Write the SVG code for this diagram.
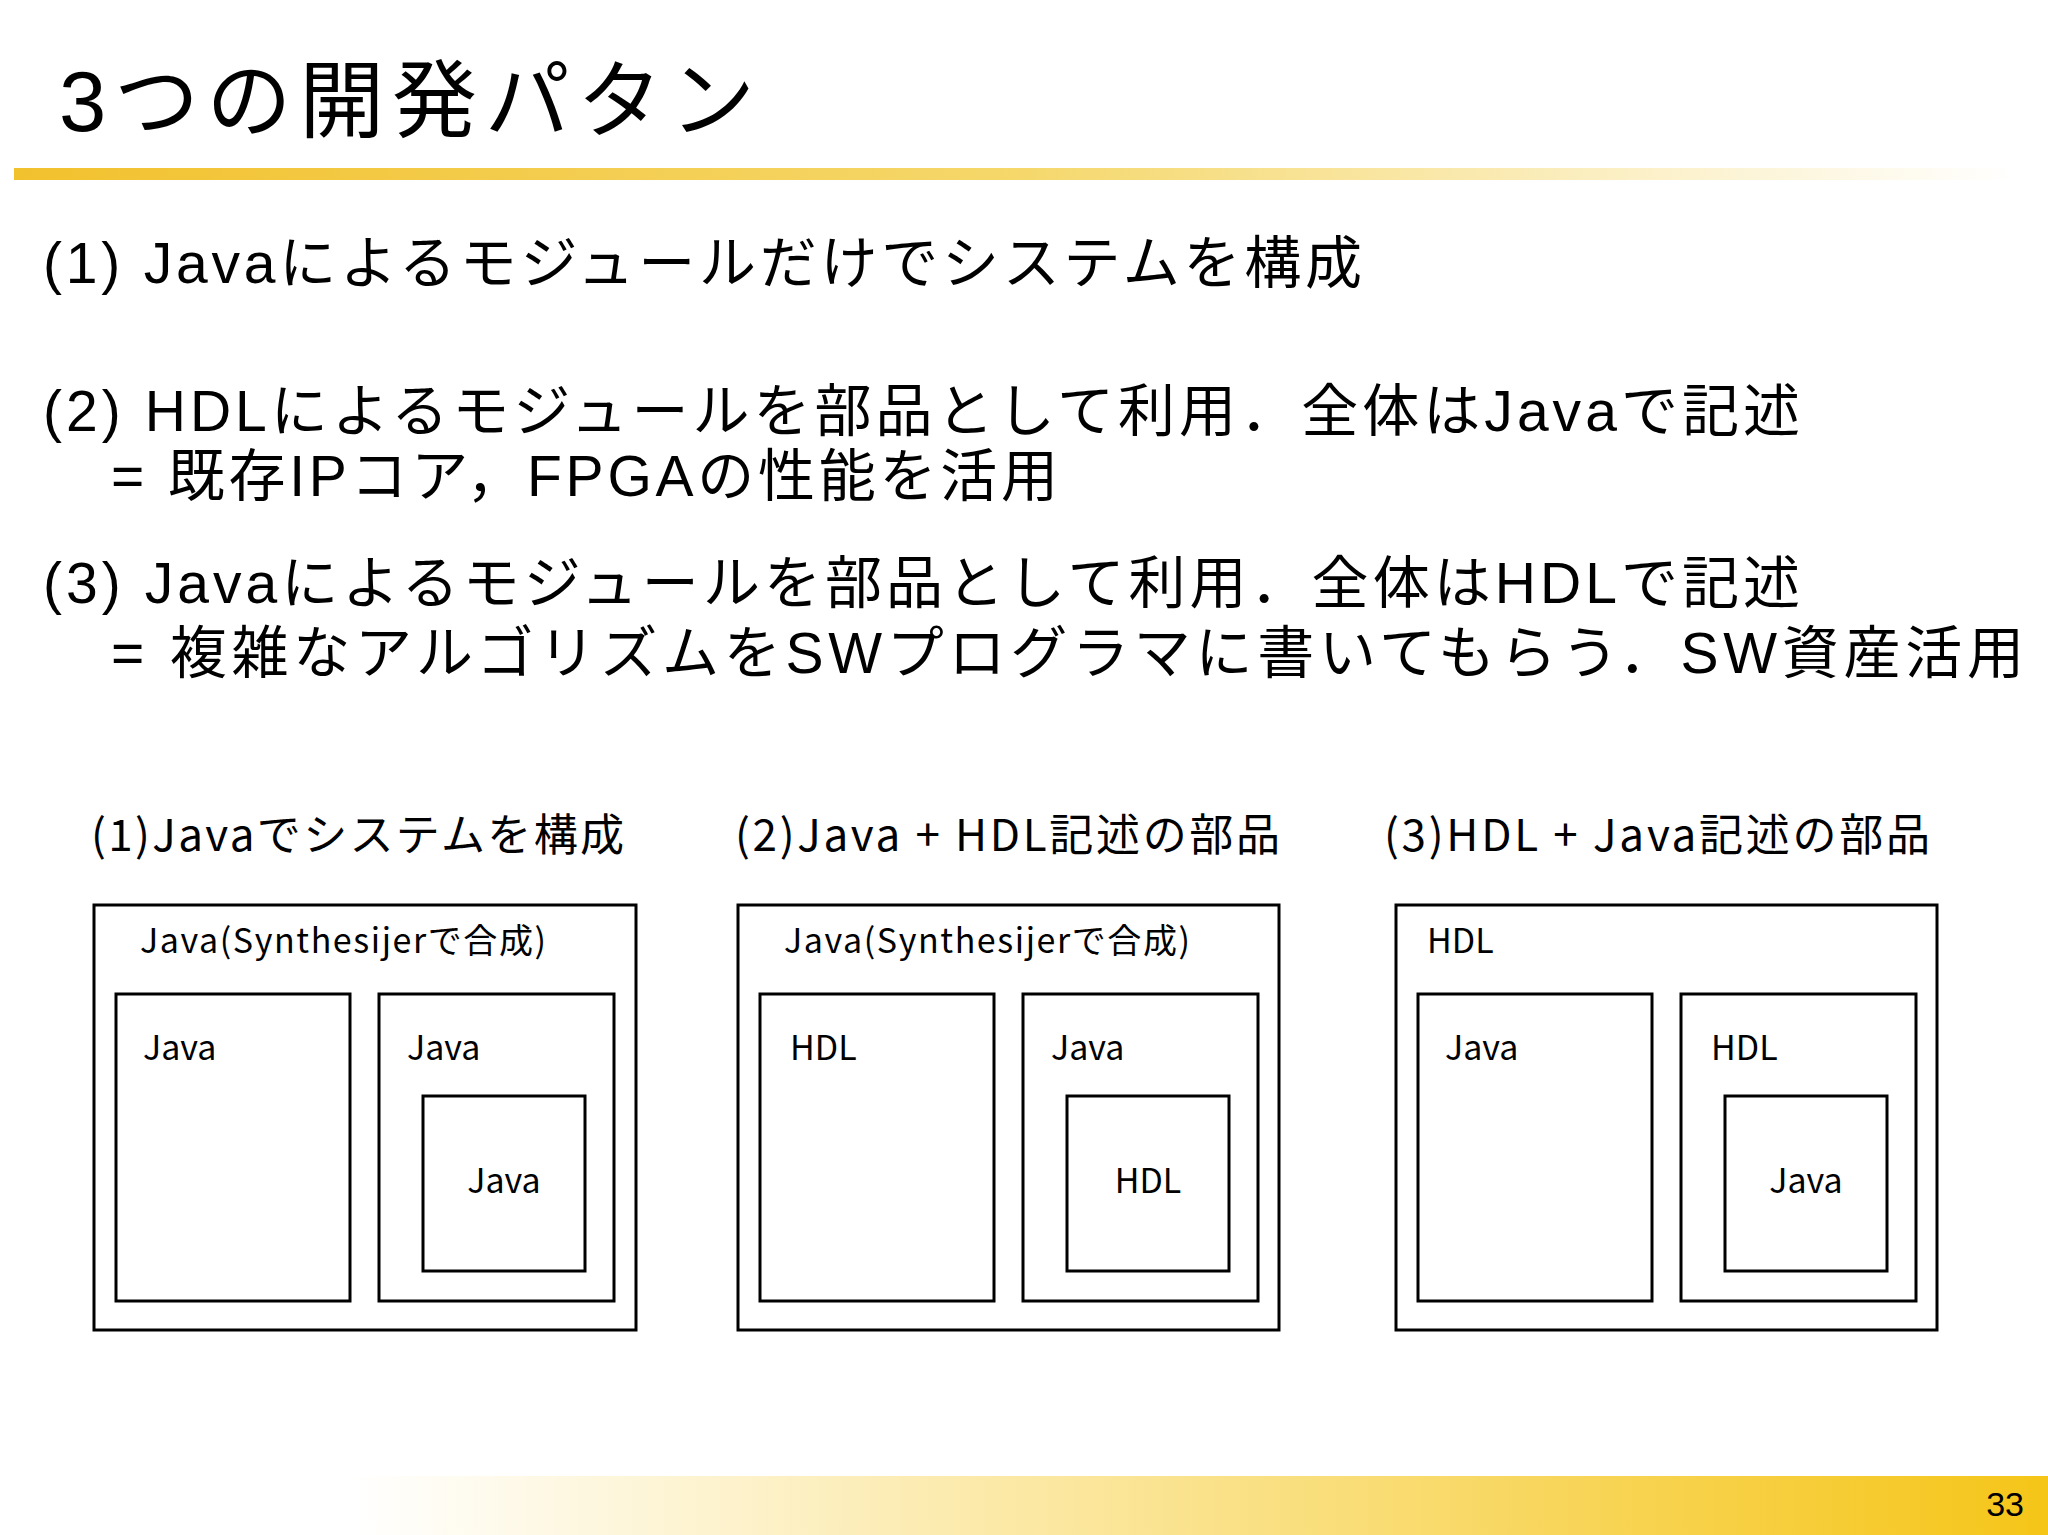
<svg xmlns="http://www.w3.org/2000/svg" width="2048" height="1535" viewBox="0 0 2048 1535">
<defs>
<linearGradient id="g1" x1="0" x2="1" y1="0" y2="0"><stop offset="0" stop-color="#f2c12e"/><stop offset="0.5" stop-color="#f5d76a"/><stop offset="1" stop-color="#f5d76a" stop-opacity="0"/></linearGradient>
<linearGradient id="g2" x1="0" x2="1" y1="0" y2="0"><stop offset="0" stop-color="#f5c518" stop-opacity="0"/><stop offset="1" stop-color="#f5c518"/></linearGradient>
<style>
.t{font-family:"Liberation Sans","Noto Sans CJK JP",sans-serif;fill:#000}
.s{font-family:"Noto Sans CJK JP",sans-serif;fill:#000}
.b{fill:#fff;stroke:#000;stroke-width:3}
</style>
</defs>
<rect width="2048" height="1535" fill="#fff"/>
<text class="t" x="59" y="131" font-size="85" textLength="696" lengthAdjust="spacing">3つの開発パタン</text>
<rect x="14" y="168" width="2000" height="12" fill="url(#g1)"/>
<g font-size="57">
<text class="t" x="43" y="283" textLength="1319" lengthAdjust="spacing">(1) Javaによるモジュールだけでシステムを構成</text>
<text class="t" x="43" y="431" textLength="1757" lengthAdjust="spacing">(2) HDLによるモジュールを部品として利用．全体はJavaで記述</text>
<text class="t" x="111" y="496" textLength="947" lengthAdjust="spacing">= 既存IPコア，FPGAの性能を活用</text>
<text class="t" x="43" y="603" textLength="1757" lengthAdjust="spacing">(3) Javaによるモジュールを部品として利用．全体はHDLで記述</text>
<text class="t" x="111" y="673" textLength="1913" lengthAdjust="spacing">= 複雑なアルゴリズムをSWプログラマに書いてもらう．SW資産活用</text>
</g>
<g font-size="44">
<text class="s" x="91" y="851" textLength="533" lengthAdjust="spacing">(1)Javaでシステムを構成</text>
<text class="s" x="735" y="851" textLength="545" lengthAdjust="spacing">(2)Java + HDL記述の部品</text>
<text class="s" x="1384" y="851" textLength="546" lengthAdjust="spacing">(3)HDL + Java記述の部品</text>
</g>
<g id="d1" font-size="34">
<rect class="b" x="94" y="905" width="542" height="425"/>
<text class="s" x="140" y="953" textLength="406" lengthAdjust="spacing">Java(Synthesijerで合成)</text>
<rect class="b" x="116" y="994" width="234" height="307"/>
<text class="s" x="143" y="1060">Java</text>
<rect class="b" x="379" y="994" width="235" height="307"/>
<text class="s" x="407" y="1060">Java</text>
<rect class="b" x="423" y="1096" width="162" height="175"/>
<text class="s" x="504" y="1193" text-anchor="middle">Java</text>
</g>
<g id="d2" font-size="34">
<rect class="b" x="738" y="905" width="541" height="425"/>
<text class="s" x="784" y="953" textLength="406" lengthAdjust="spacing">Java(Synthesijerで合成)</text>
<rect class="b" x="760" y="994" width="234" height="307"/>
<text class="s" x="790" y="1060">HDL</text>
<rect class="b" x="1023" y="994" width="235" height="307"/>
<text class="s" x="1051" y="1060">Java</text>
<rect class="b" x="1067" y="1096" width="162" height="175"/>
<text class="s" x="1148" y="1193" text-anchor="middle">HDL</text>
</g>
<g id="d3" font-size="34">
<rect class="b" x="1396" y="905" width="541" height="425"/>
<text class="s" x="1427" y="953">HDL</text>
<rect class="b" x="1418" y="994" width="234" height="307"/>
<text class="s" x="1445" y="1060">Java</text>
<rect class="b" x="1681" y="994" width="235" height="307"/>
<text class="s" x="1711" y="1060">HDL</text>
<rect class="b" x="1725" y="1096" width="162" height="175"/>
<text class="s" x="1806" y="1193" text-anchor="middle">Java</text>
</g>
<rect x="353" y="1476" width="1695" height="59" fill="url(#g2)"/>
<text class="t" x="2024" y="1516" font-size="34" text-anchor="end">33</text>
</svg>
